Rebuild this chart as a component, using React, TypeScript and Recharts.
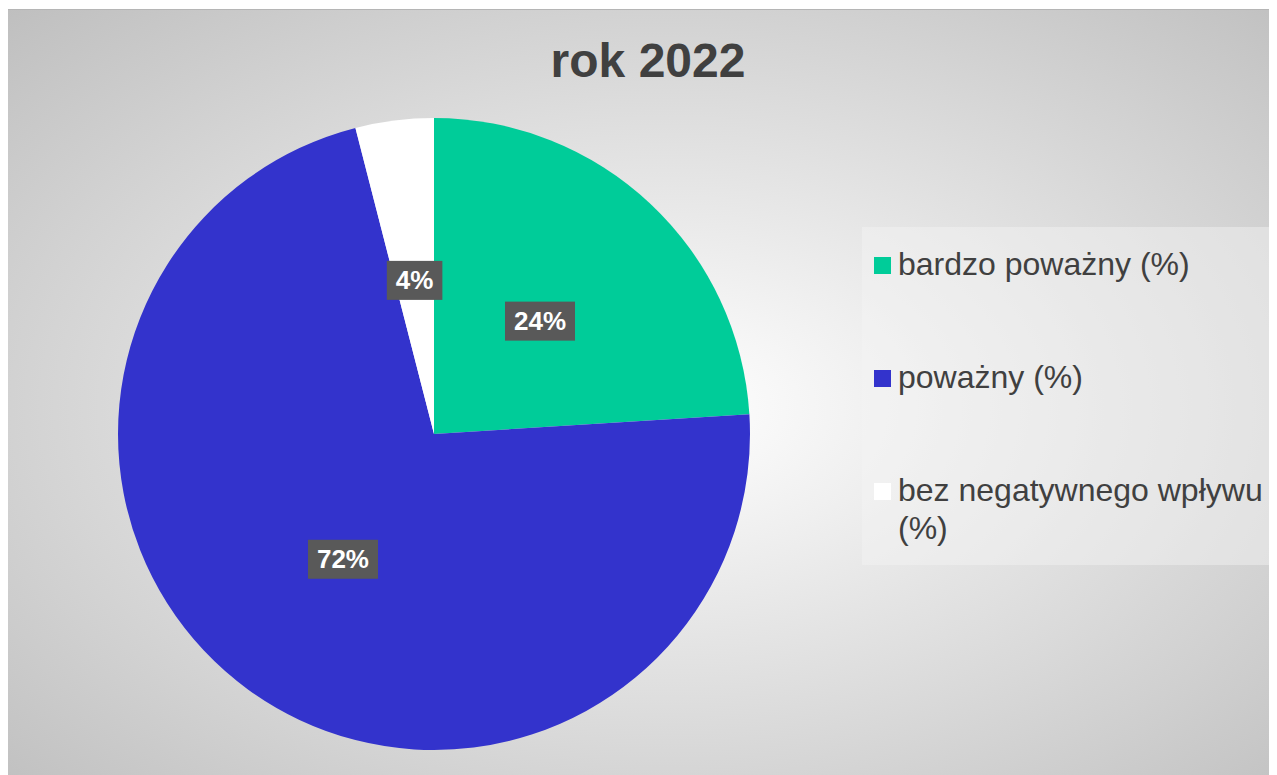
import React from "react";
import { PieChart, Pie, Cell, Legend, Customized } from "recharts";

const categories = ["bardzo poważny (%)", "poważny (%)", "bez negatywnego wpływu (%)"];
const values = [24, 72, 4];
const colors = ["#00CC99", "#3333CC", "#FFFFFF"];
const title = "rok 2022";

const data = categories.map((name, i) => ({ name, value: values[i] }));

const W = 1269;
const H = 766;
const RADIAN = Math.PI / 180;

const charW = (s: string, fs: number) => {
  let w = 0;
  for (const c of s) w += c === "%" ? 0.889 : 0.556;
  return w * fs;
};

const renderLabel = (props: any) => {
  const { cx, cy, midAngle, outerRadius, value } = props;
  const r = outerRadius * 0.49;
  const x = cx + r * Math.cos(-midAngle * RADIAN);
  const y = cy + r * Math.sin(-midAngle * RADIAN);
  const txt = `${value}%`;
  const fs = 26;
  const bw = charW(txt, fs) + 18;
  const bh = 39;
  return (
    <g>
      <rect x={x - bw / 2} y={y - bh / 2} width={bw} height={bh} fill="#595959" />
      <text
        x={x}
        y={y}
        fill="#FFFFFF"
        textAnchor="middle"
        dominantBaseline="central"
        fontFamily="'Liberation Sans', Arial, sans-serif"
        fontWeight="bold"
        fontSize={fs}
      >
        {txt}
      </text>
    </g>
  );
};

const renderLegend = (props: any) => {
  const payload = [...(props.payload || [])].sort(
    (a: any, b: any) => categories.indexOf(a.value) - categories.indexOf(b.value)
  );
  const rowTops = [18, 131, 244];
  return (
    <div
      style={{
        position: "relative",
        width: 411,
        height: 338,
        background: "rgba(244,244,244,0.45)",
        fontFamily: "'Liberation Sans', Arial, sans-serif",
        color: "#404040",
      }}
    >
      {payload.map((entry: any, i: number) => (
        <div
          key={i}
          style={{
            position: "absolute",
            left: 12,
            top: rowTops[i],
            display: "flex",
            alignItems: "flex-start",
            width: 399,
          }}
        >
          <div
            style={{
              width: 17,
              height: 17,
              background: entry.color,
              marginTop: 12,
              marginRight: 7,
              flex: "none",
            }}
          />
          <div style={{ fontSize: 32, lineHeight: "38px", width: 375 }}>{entry.value}</div>
        </div>
      ))}
    </div>
  );
};

const Title = () => (
  <text
    x={640}
    y={67}
    textAnchor="middle"
    fill="#404040"
    fontFamily="'Liberation Sans', Arial, sans-serif"
    fontWeight="bold"
    fontSize={48}
  >
    {title}
  </text>
);

export default function App() {
  return (
    <div style={{ paddingTop: 1 }}>
      <div
        style={{
          width: W,
          height: H,
          background: "radial-gradient(ellipse farthest-corner at 52% 52%, #ffffff 0%, #bfbfbf 100%)",
          borderTop: "1px solid #b5b5b5",
          boxSizing: "border-box",
          position: "relative",
        }}
      >
        <PieChart width={W} height={H - 1} margin={{ top: 0, right: 0, bottom: 0, left: 0 }}>
          <Customized component={Title} />
          <Pie
            data={data}
            dataKey="value"
            nameKey="name"
            cx={426}
            cy={424}
            outerRadius={316}
            startAngle={90}
            endAngle={-270}
            stroke="none"
            label={renderLabel}
            labelLine={false}
            isAnimationActive={false}
          >
            {data.map((d, i) => (
              <Cell key={d.name} fill={colors[i]} />
            ))}
          </Pie>
          <Legend
            content={renderLegend}
            wrapperStyle={{ position: "absolute", left: 854, top: 217, width: 411, height: 338 }}
          />
        </PieChart>
      </div>
    </div>
  );
}
